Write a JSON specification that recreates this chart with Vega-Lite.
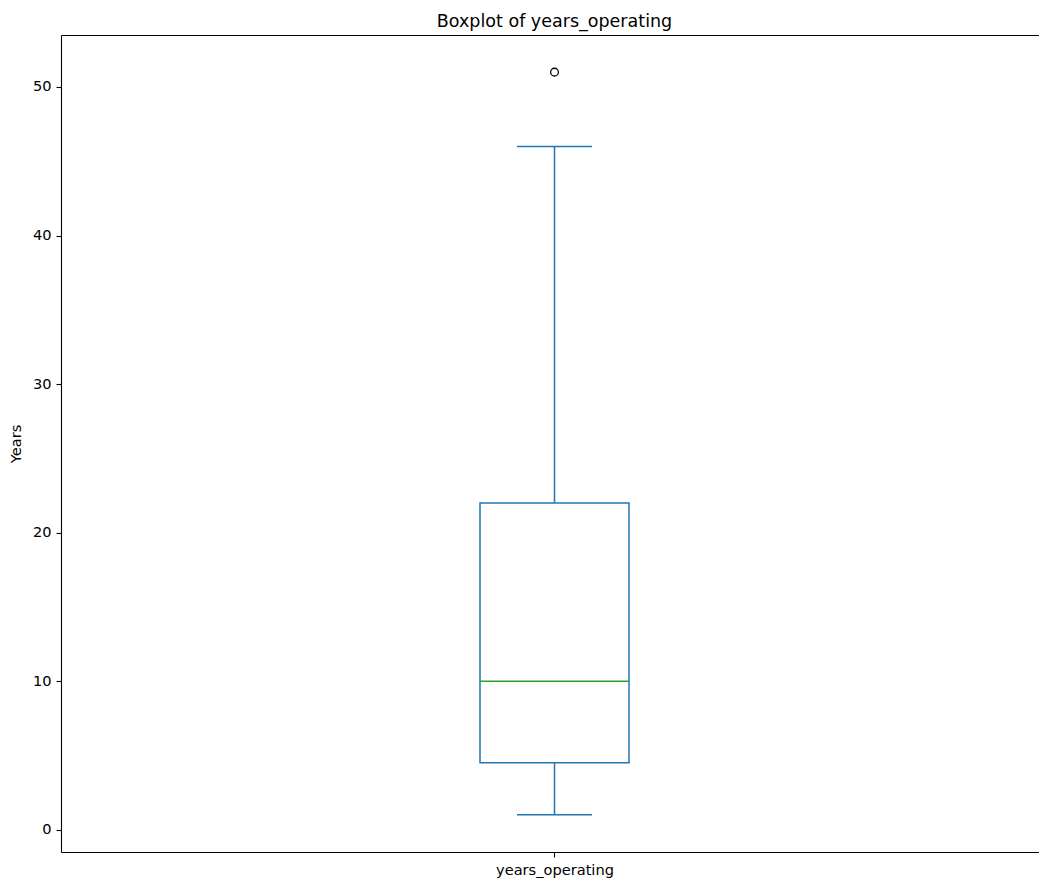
{
  "$schema": "https://vega.github.io/schema/vega-lite/v6.json",
  "width": 978,
  "height": 817,
  "autosize": {"type": "none"},
  "padding": {"left": 61, "top": 35, "right": 0, "bottom": 28},
  "background": "white",
  "title": {
    "text": "Boxplot of years_operating",
    "font": "DejaVu Sans",
    "fontSize": 17.5,
    "fontWeight": "normal",
    "color": "black",
    "anchor": "middle",
    "baseline": "alphabetic",
    "offset": -9.5,
    "dx": 4.5
  },
  "datasets": {
    "stats": [
      {"variable": "years_operating", "lower": 1, "q1": 4.5, "median": 10, "q3": 22, "upper": 46}
    ],
    "outliers": [
      {"variable": "years_operating", "value": 51}
    ]
  },
  "config": {
    "view": {"stroke": null},
    "axis": {
      "grid": false,
      "domainColor": "black",
      "domainWidth": 1.1,
      "tickColor": "black",
      "tickWidth": 1.1,
      "tickSize": 5,
      "labelPadding": 5,
      "labelFont": "DejaVu Sans",
      "labelFontSize": 14.6,
      "labelColor": "black",
      "titleFont": "DejaVu Sans",
      "titleFontSize": 14.6,
      "titleFontWeight": "normal",
      "titleColor": "black"
    }
  },
  "encoding": {
    "x": {
      "field": "variable",
      "type": "nominal",
      "scale": {"type": "point", "padding": 0.5, "align": 0.5046},
      "axis": {"title": null, "labelAngle": 0}
    }
  },
  "layer": [
    {
      "data": {"name": "stats"},
      "layer": [
        {
          "mark": {"type": "rule", "color": "#1f77b4", "strokeWidth": 1.5},
          "encoding": {
            "y": {
              "field": "lower",
              "type": "quantitative",
              "scale": {"domain": [-1.5, 53.5], "nice": false, "zero": false},
              "axis": {"title": "Years", "values": [0, 10, 20, 30, 40, 50], "titlePadding": 9}
            },
            "y2": {"field": "q1"}
          }
        },
        {
          "mark": {"type": "rule", "color": "#1f77b4", "strokeWidth": 1.5},
          "encoding": {
            "y": {"field": "q3", "type": "quantitative"},
            "y2": {"field": "upper"}
          }
        },
        {
          "mark": {"type": "bar", "size": 149, "fill": "white", "stroke": "#1f77b4", "strokeWidth": 1.5},
          "encoding": {
            "y": {"field": "q1", "type": "quantitative"},
            "y2": {"field": "q3"}
          }
        },
        {
          "mark": {"type": "tick", "size": 75, "thickness": 1.5, "color": "#1f77b4", "opacity": 1},
          "encoding": {"y": {"field": "lower", "type": "quantitative"}}
        },
        {
          "mark": {"type": "tick", "size": 75, "thickness": 1.5, "color": "#1f77b4", "opacity": 1},
          "encoding": {"y": {"field": "upper", "type": "quantitative"}}
        },
        {
          "mark": {"type": "tick", "size": 149, "thickness": 1.5, "color": "#2ca02c", "opacity": 1},
          "encoding": {"y": {"field": "median", "type": "quantitative"}}
        }
      ]
    },
    {
      "data": {"name": "outliers"},
      "mark": {"type": "point", "shape": "circle", "filled": false, "stroke": "black", "strokeWidth": 1.3, "size": 60, "opacity": 1},
      "encoding": {
        "x": {
          "field": "variable",
          "type": "nominal",
          "scale": {"type": "point", "padding": 0.5, "align": 0.5046},
          "axis": {"orient": "top", "title": null, "labels": false, "ticks": false}
        },
        "y": {"field": "value", "type": "quantitative"}
      }
    }
  ],
  "resolve": {"scale": {"x": "independent"}, "axis": {"x": "independent"}}
}
